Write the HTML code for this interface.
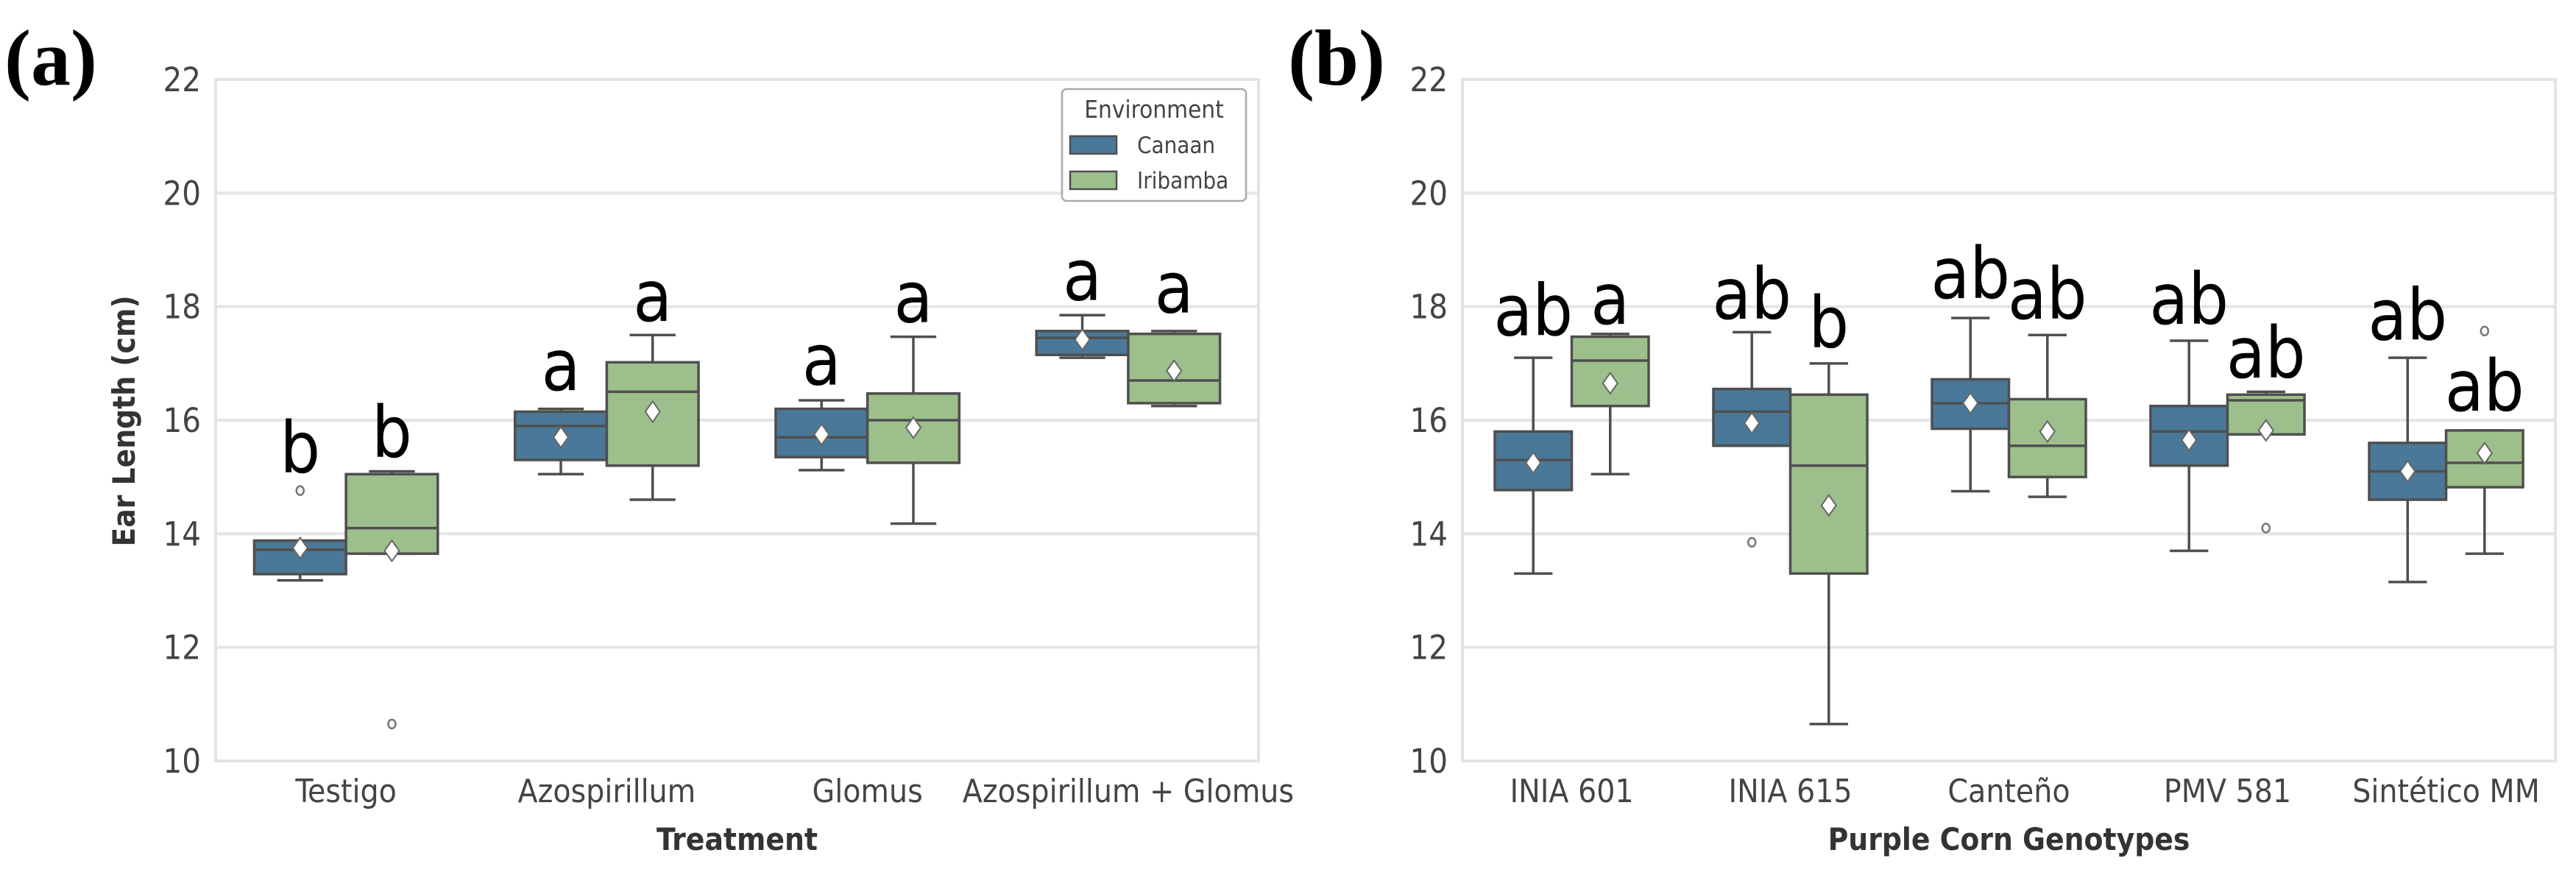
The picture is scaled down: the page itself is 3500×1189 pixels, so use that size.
<!DOCTYPE html>
<html><head><meta charset="utf-8"><style>
html,body{margin:0;padding:0;background:#fff;}
svg{display:block;}
text{font-family:"DejaVu Sans","Liberation Sans",sans-serif;}
.cond{font-family:"DejaVu Sans Condensed","DejaVu Sans","Liberation Sans",sans-serif;}
</style></head><body>
<svg id="fig" width="3500" height="1189" viewBox="0 0 3500 1189" xmlns="http://www.w3.org/2000/svg"></svg>
<script>
const NS="http://www.w3.org/2000/svg";
const svg=document.getElementById('fig');
const yTicks=[10,12,14,16,18,20,22];
const seriesNames=["Canaan","Iribamba"];
const seriesColors=["#4a7898","#9dbf8c"];
// Panel a
const catsA=["Testigo","Azospirillum","Glomus","Azospirillum + Glomus"];
const canaanA=[[13.18,13.29,13.72,13.88,13.88],[15.05,15.3,15.9,16.15,16.2],[15.12,15.35,15.7,16.2,16.35],[17.1,17.15,17.45,17.57,17.85]];
const iribA=[[13.65,13.65,14.1,15.05,15.1],[14.6,15.2,16.5,17.02,17.5],[14.18,15.25,16.0,16.47,17.47],[16.25,16.3,16.7,17.52,17.57]];
const meanCanA=[13.75,15.7,15.75,17.42];
const meanIribA=[13.7,16.15,15.87,16.87];
const outCanA=[[14.76],[],[],[]];
const outIribA=[[10.65],[],[],[]];
const lettersCanA=["b","a","a","a"];
const lettersIribA=["b","a","a","a"];
const letterYCanA=[15.08,16.53,16.63,18.12];
const letterYIribA=[15.35,17.75,17.73,17.9];
// Panel b
const catsB=["INIA 601","INIA 615","Canteño","PMV 581","Sintético MM"];
const canaanB=[[13.3,14.77,15.3,15.8,17.1],[15.55,15.55,16.15,16.55,17.55],[14.75,15.85,16.3,16.72,17.8],[13.7,15.2,15.8,16.25,17.4],[13.15,14.6,15.1,15.6,17.1]];
const iribB=[[15.05,16.25,17.05,17.47,17.52],[10.65,13.3,15.2,16.45,17.0],[14.65,15.0,15.55,16.37,17.5],[15.75,15.75,16.35,16.45,16.5],[13.65,14.82,15.25,15.82,15.82]];
const meanCanB=[15.25,15.95,16.3,15.65,15.1];
const meanIribB=[16.65,14.5,15.8,15.82,15.42];
const outCanB=[[],[13.85],[],[],[]];
const outIribB=[[],[],[],[14.1],[17.57]];
const lettersCanB=["ab","ab","ab","ab","ab"];
const lettersIribB=["a","b","ab","ab","ab"];
const letterYCanB=[17.5,17.79,18.15,17.7,17.42];
const letterYIribB=[17.7,17.28,17.79,16.75,16.17];

function el(tag,attrs,parent,txt){const e=document.createElementNS(NS,tag);for(const k in attrs)e.setAttribute(k,attrs[k]);if(txt!==undefined)e.textContent=txt;(parent||svg).appendChild(e);return e;}

function panel(cfg){
  const g=el('g',{});
  
  
  const {L,R,T,B}=cfg;
  const y=v=>B-(v-10)/12*(B-T);
  const cw=(R-L)/cfg.cats.length;
  const x=i=>L+(i+0.5)*cw;
  yTicks.forEach(t=>{
    const ln=el('line',{x1:L,x2:R,y1:y(t),y2:y(t),stroke:'#e5e5e5','stroke-width':4},g);
    
    
    const tx=el('text',{x:L-20,y:y(t)+16,'text-anchor':'end','font-size':45,fill:'#444','class':'cond'},g,String(t));
    
    
  });
  const fr=el('rect',{x:L,y:T,width:R-L,height:B-T,fill:'none',stroke:'#e3e3e3','stroke-width':4},g);
  
  
  const bw=0.352*cw;
  const series=[[cfg.can,cfg.meanCan,cfg.outCan,cfg.letCan,cfg.letYCan],[cfg.irib,cfg.meanIrib,cfg.outIrib,cfg.letIrib,cfg.letYIrib]];
  cfg.cats.forEach((c,i)=>{
    const tl=el('text',{x:x(i),y:1090,'text-anchor':'middle','font-size':44,fill:'#444','class':'cond'},g,c);
    
    
    series.forEach((s,k)=>{
      const cx=x(i)+(k===0?-1:1)*bw/2;
      const [lo,q1,md,q3,hi]=s[0][i];
      const bg=el('g',{},g);
      
      
      const st={stroke:'#4f4f4f','stroke-width':3.5};
      el('line',Object.assign({x1:cx,x2:cx,y1:y(hi),y2:y(q3)},st),bg);
      el('line',Object.assign({x1:cx,x2:cx,y1:y(q1),y2:y(lo)},st),bg);
      el('line',Object.assign({x1:cx-bw/4,x2:cx+bw/4,y1:y(hi),y2:y(hi)},st),bg);
      el('line',Object.assign({x1:cx-bw/4,x2:cx+bw/4,y1:y(lo),y2:y(lo)},st),bg);
      el('rect',Object.assign({x:cx-bw/2,y:y(q3),width:bw,height:Math.max(1,y(q1)-y(q3)),fill:seriesColors[k]},st),bg);
      el('line',Object.assign({x1:cx-bw/2,x2:cx+bw/2,y1:y(md),y2:y(md)},st),bg);
      const m=y(s[1][i]);
      const d=el('path',{d:`M${cx},${m-14} L${cx+10},${m} L${cx},${m+14} L${cx-10},${m} Z`,fill:'#fff',stroke:'#666','stroke-width':2},bg);
      
      
      s[2][i].forEach(o=>{
        const c2=el('ellipse',{cx:cx,cy:y(o),rx:5,ry:6,fill:'#fff',stroke:'#777','stroke-width':2.5},bg);
        
        
      });
      const lt=el('text',{x:cx,y:y(s[4][i]),'text-anchor':'middle','font-size':96,fill:'#000','class':'cond'},g,s[3][i]);
      
      
    });
  });
  const xt=el('text',{x:(L+R)/2,y:1155,'text-anchor':'middle','font-size':42,'font-weight':'bold',fill:'#333','class':'cond'},g,cfg.xTitle);
  
  
  const pl=el('text',{x:cfg.labX,y:115,'font-size':108,'font-weight':'bold',fill:'#000',style:'font-family:"Liberation Serif",serif'},g,cfg.label);
  
  
}
panel({name:'panel-a',L:293,R:1710,T:108,B:1034,cats:catsA,can:canaanA,irib:iribA,meanCan:meanCanA,meanIrib:meanIribA,outCan:outCanA,outIrib:outIribA,letCan:lettersCanA,letIrib:lettersIribA,letYCan:letterYCanA,letYIrib:letterYIribA,xTitle:'Treatment',label:'(a)',labX:6});
panel({name:'panel-b',L:1987,R:3472,T:108,B:1034,cats:catsB,can:canaanB,irib:iribB,meanCan:meanCanB,meanIrib:meanIribB,outCan:outCanB,outIrib:outIribB,letCan:lettersCanB,letIrib:lettersIribB,letYCan:letterYCanB,letYIrib:letterYIribB,xTitle:'Purple Corn Genotypes',label:'(b)',labX:1750});
const yt=el('text',{x:0,y:0,transform:'translate(183,572) rotate(-90)','text-anchor':'middle','font-size':42,'font-weight':'bold',fill:'#333','class':'cond'},svg,'Ear Length (cm)');


const lg=el('g',{});


el('rect',{x:1443,y:121,width:250,height:152,rx:6,fill:'#fff',stroke:'#aaa','stroke-width':2.5},lg);
const ltt=el('text',{x:1568,y:160,'text-anchor':'middle','font-size':33,fill:'#444','class':'cond'},lg,'Environment');


seriesNames.forEach((n,k)=>{
  const e=el('g',{},lg);
  
  
  el('rect',{x:1454,y:185+k*48,width:63,height:24,fill:seriesColors[k],stroke:'#4f4f4f','stroke-width':2.5},e);
  el('text',{x:1545,y:208+k*48,'font-size':31,fill:'#444','class':'cond'},e,n);
});
</script>
</body></html>
